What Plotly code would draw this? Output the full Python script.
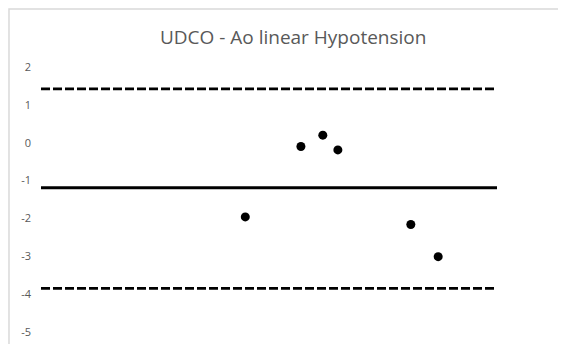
import plotly.graph_objects as go

# Data
x_vals = [44.8, 57.0, 61.8, 65.1, 81.1, 87.1]
y_vals = [-1.96, -0.10, 0.20, -0.19, -2.16, -3.01]
mean_diff = -1.19
upper_loa = 1.42
lower_loa = -3.85
x_span = [0, 100]
y_ticks = [2, 1, 0, -1, -2, -3, -4, -5]
title_text = "UDCO - Ao linear Hypotension"

fig = go.Figure()
fig.add_trace(go.Scatter(x=x_span, y=[upper_loa, upper_loa], mode="lines",
                         line=dict(color="black", width=2.8, dash="9px,3px"), hoverinfo="skip"))
fig.add_trace(go.Scatter(x=x_span, y=[mean_diff, mean_diff], mode="lines",
                         line=dict(color="black", width=2.8), hoverinfo="skip"))
fig.add_trace(go.Scatter(x=x_span, y=[lower_loa, lower_loa], mode="lines",
                         line=dict(color="black", width=2.8, dash="9px,3px"), hoverinfo="skip"))
fig.add_trace(go.Scatter(x=x_vals, y=y_vals, mode="markers",
                         marker=dict(color="black", size=9)))

fig.add_shape(type="rect", xref="paper", yref="paper",
              x0=-0.0702, x1=1.3, y0=-0.3, y1=1.219,
              line=dict(color="#d9d9d9", width=1.5), layer="below")

fig.update_layout(
    width=566, height=344,
    margin=dict(l=33, r=77, t=59, b=20),
    paper_bgcolor="white", plot_bgcolor="white",
    showlegend=False,
    title=dict(text=title_text, x=0.553, xref="paper", xanchor="center",
               y=1 - 29 / 344, yref="container", yanchor="middle",
               font=dict(family="Open Sans", size=19, color="#595959")),
    xaxis=dict(range=x_span, visible=False),
    yaxis=dict(range=[-5, 2], tickvals=y_ticks, ticktext=[str(v) for v in y_ticks],
               showgrid=False, zeroline=False, showline=False,
               ticklabelstandoff=9,
               tickfont=dict(family="Open Sans", size=11, color="#595959")),
)

fig.write_html("out.html")
